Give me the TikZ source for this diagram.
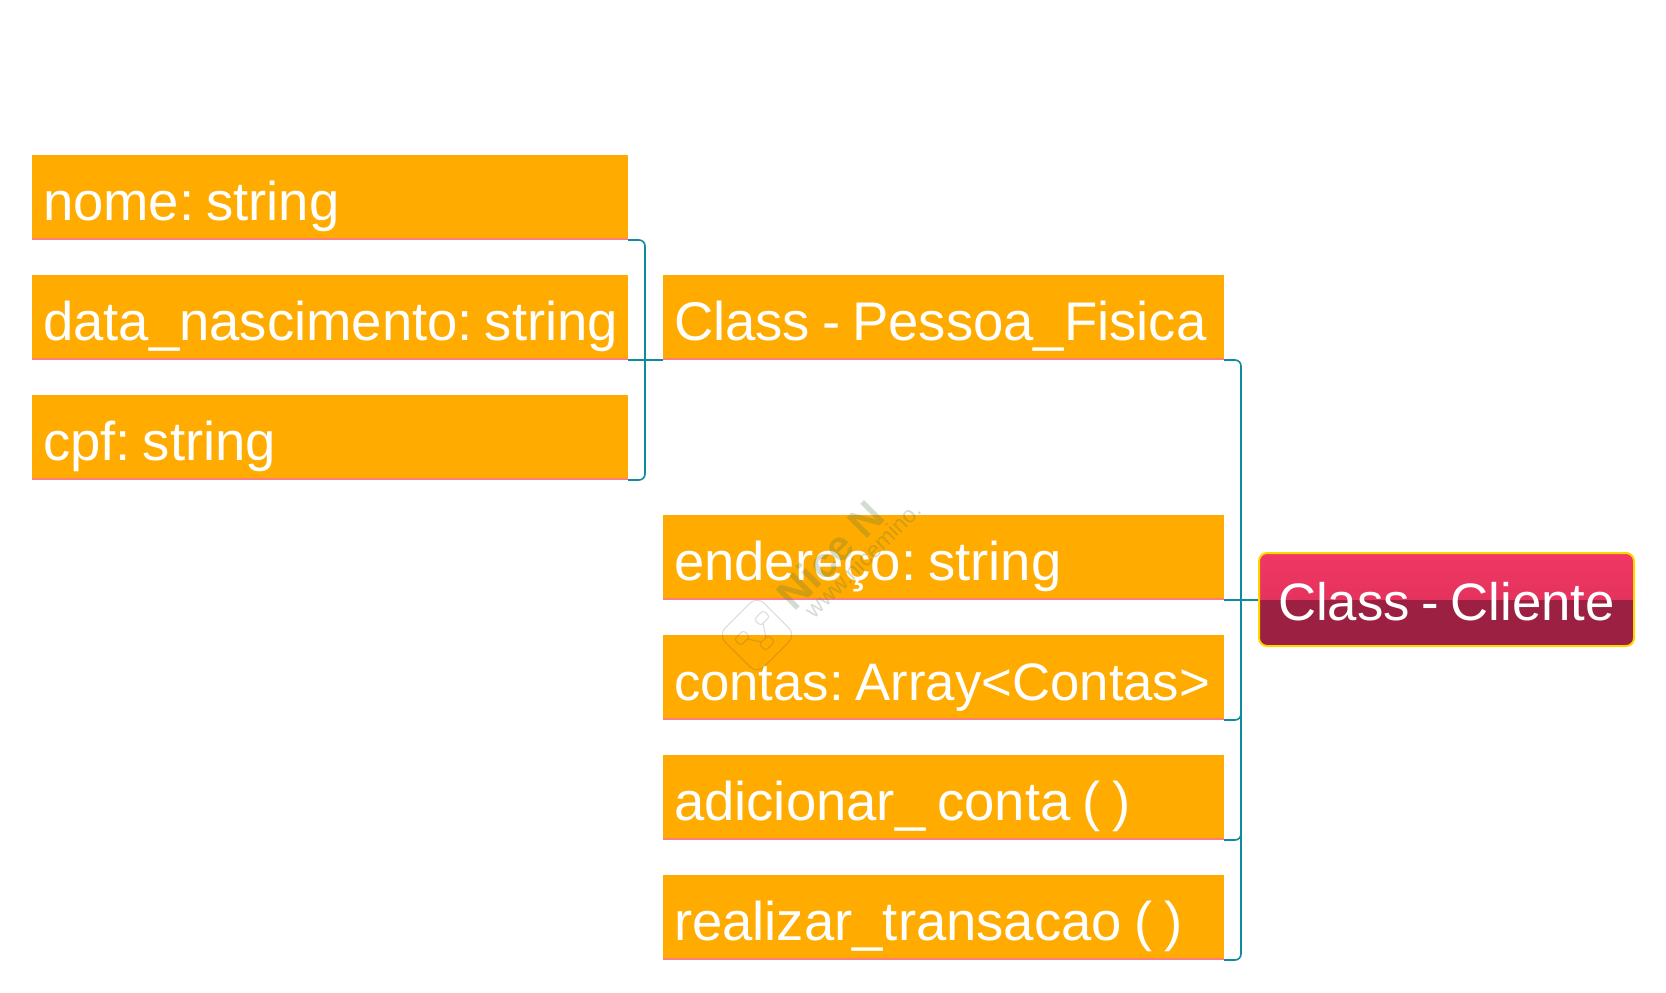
\documentclass[tikz,border=0pt]{standalone}
\usepackage{xcolor}
\usepackage{fontspec}
\setmainfont{Liberation Sans}
\usetikzlibrary{positioning, calc}
\definecolor{attrfill}{HTML}{FFAB00}
\definecolor{attrline}{HTML}{FF7F7F}
\definecolor{linkcol}{HTML}{0E8C99}
\definecolor{rootup}{HTML}{F23764}
\definecolor{rootmid}{HTML}{D62F58}
\definecolor{rootlow}{HTML}{9C2042}
\definecolor{rootline}{HTML}{FFD600}
\frenchspacing
\newcommand{\labelfont}{\fontsize{15.5}{18}\selectfont}

\begin{document}
\begin{tikzpicture}[
  attr/.style={fill=attrfill, text=white, font=\labelfont, align=left,
    anchor=north west, inner xsep=0.11cm, inner ysep=0pt, outer sep=0pt,
    text height=0.65cm, text depth=0.2cm,
    execute at begin node={\spaceskip=0.22em\relax},
    path picture={\draw[attrline, line width=0.025cm]
      ($(path picture bounding box.south west)+(0,0.01)$) -- ($(path picture bounding box.south east)+(0,0.01)$);}},
  wideA/.style={attr, text width=5.74cm},
  wideB/.style={attr, text width=5.39cm},
  link/.style={draw=linkcol, line width=0.016cm},
  bracket/.style={link, rounded corners=0.06cm},
  marktext/.style={rotate=45, text=black!60!green!40!gray, opacity=0.25},
  marklink/.style={draw=black!70, opacity=0.2, line width=0.01cm},
  markdot/.style={marklink, rotate=45, rounded corners=0.03cm, minimum width=0.13cm, minimum height=0.09cm, inner sep=0pt},
]
\useasboundingbox (0,0) rectangle (16.66,-9.92);

% left column
\node[wideA] (nome) at (0.32,-1.55) {nome: string};
\node[wideA, below=0.35cm of nome] (data) {\mbox{data\_nascimento: string}};
\node[wideA, below=0.35cm of data] (cpf) {cpf: string};

% middle column
\node[wideB] (pessoa) at (6.63,-2.75) {Class - Pessoa\_Fisica};
\node[wideB] (ender) at (6.63,-5.15) {endereço: string};
\node[wideB, font=\fontsize{15}{18}\selectfont, below=0.35cm of ender] (contas) {\mbox{contas: Array<Contas>}};
\node[wideB, below=0.35cm of contas] (adic) {adicionar\_ conta ( )};
\node[wideB, below=0.35cm of adic] (real) {realizar\_transacao ( )};

% connectors
\coordinate (busA) at (6.45,-3.6);
\coordinate (busB) at (12.41,-6);
\draw[bracket] (nome.south east) -| (busA) |- (cpf.south east);
\draw[link] (data.south east) -- (pessoa.south west);
\draw[bracket] (pessoa.south east) -| (busB) |- (real.south east);
\draw[bracket] (contas.south east) -| (busB);
\draw[bracket] (adic.south east) -| (busB);
\draw[link] (ender.south east) -- (12.59,-6);

% root
\node[draw=rootline, line width=0.02cm, rounded corners=0.08cm, anchor=west, text=white,
  minimum width=3.75cm, minimum height=0.93cm, inner sep=0pt, outer sep=0pt,
  text height=0.5cm, text depth=0.09cm,
  font=\fontsize{15}{18}\selectfont,
  execute at begin node={\spaceskip=0.22em\relax},
  path picture={
    \fill[sharp corners, top color=rootup, bottom color=rootmid]
      (path picture bounding box.north west) rectangle (path picture bounding box.east);
    \fill[sharp corners, rootlow]
      (path picture bounding box.west) rectangle (path picture bounding box.south east);
  }] (cliente) at (12.59,-5.995) {Class - Cliente};

% watermark
\node[marktext, font=\bfseries\fontsize{12}{14}\selectfont] (markname) at (8.3,-5.55) {Nice N};
\node[marktext, font=\fontsize{6.5}{8}\selectfont] (markurl) at (8.63,-5.6) {www.nicemino.};
\node[marklink, rotate=45, rounded corners=0.1cm, minimum size=0.55cm] (marklogo) at (7.57,-6.35) {};
\node[markdot] (markdotA) at (7.62,-6.18) {};
\node[markdot] (markdotB) at (7.42,-6.38) {};
\node[markdot] (markdotC) at (7.67,-6.43) {};
\draw[marklink] (markdotA) -- (markdotC) -- (markdotB);
\end{tikzpicture}
\end{document}
